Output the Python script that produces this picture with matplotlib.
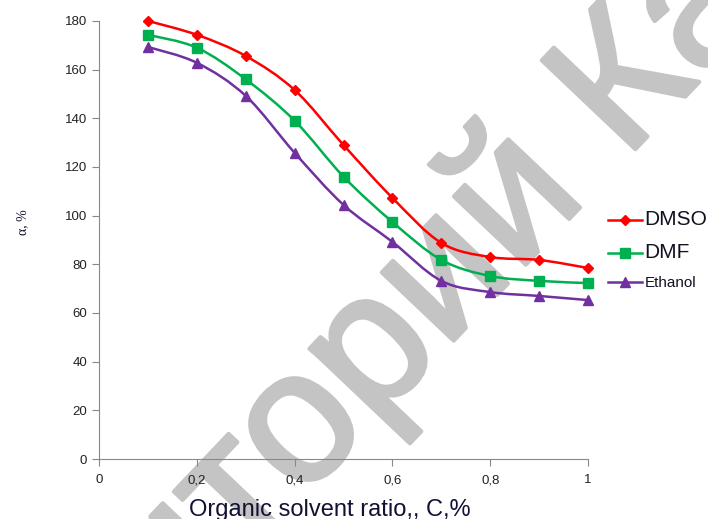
import matplotlib
matplotlib.use("Agg")
import matplotlib.pyplot as plt
import matplotlib.patheffects as pe
import numpy as np
from matplotlib.path import Path
from matplotlib.patches import PathPatch
from matplotlib.lines import Line2D

# data
ratio = [0.1, 0.2, 0.3, 0.4, 0.5, 0.6, 0.7, 0.8, 0.9, 1.0]
dmso = [180, 174.3, 165.6, 151.6, 129, 107.3, 88.8, 83, 81.8, 78.5]
dmf = [174.3, 169, 156, 139, 116, 97.4, 81.8, 75.2, 73.2, 72.3]
ethanol = [169.3, 162.8, 149.2, 125.8, 104.4, 89.2, 73.2, 68.6, 67, 65.3]

names = ["DMSO", "DMF", "Ethanol"]
colors = ["#ff0000", "#00b050", "#7030a0"]
markers = ["D", "s", "^"]
msizes = [5, 6.5, 7]
xticks = [0, 0.2, 0.4, 0.6, 0.8, 1]
xticklabels = ["0", "0,2", "0,4", "0,6", "0,8", "1"]
yticks = list(range(0, 181, 20))

plt.rcParams['font.family'] = ['Liberation Sans', 'DejaVu Sans']


def smooth_path(x, y):
    # excel-like smoothed line: catmull-rom segments as cubic bezier
    x = np.asarray(x, float)
    y = np.asarray(y, float)
    verts = [(x[0], y[0])]
    codes = [Path.MOVETO]
    n = len(x)
    for i in range(n - 1):
        i0 = max(i - 1, 0)
        i3 = min(i + 2, n - 1)
        c1 = (x[i] + (x[i + 1] - x[i0]) / 6, y[i] + (y[i + 1] - y[i0]) / 6)
        c2 = (x[i + 1] - (x[i3] - x[i]) / 6, y[i + 1] - (y[i3] - y[i]) / 6)
        verts += [c1, c2, (x[i + 1], y[i + 1])]
        codes += [Path.CURVE4] * 3
    return Path(verts, codes)


fig = plt.figure(figsize=(7.08, 5.19), dpi=100)
ax = fig.add_axes([0.14, 0.1156, 0.6905, 0.844])

handles = []
for ys, name, c, m, ms in zip([dmso, dmf, ethanol], names, colors, markers, msizes):
    patch = PathPatch(smooth_path(ratio, ys), facecolor="none", edgecolor=c, lw=1.8, zorder=3)
    ax.add_patch(patch)
    ax.plot(ratio, ys, linestyle="none", marker=m, ms=ms, color=c, zorder=4, clip_on=False)
    handles.append(Line2D([], [], color=c, lw=1.8, marker=m, ms=ms))

ax.set_xlim(0, 1)
ax.set_ylim(0, 180)
ax.set_xticks(xticks)
ax.set_xticklabels(xticklabels)
ax.set_yticks(yticks)
for s in ["top", "right"]:
    ax.spines[s].set_visible(False)
for s in ["left", "bottom"]:
    ax.spines[s].set_color("#888888")
ax.tick_params(colors="#888888", labelcolor="#222222", labelsize=9.5, length=5, direction="out")
ax.tick_params(axis="x", pad=6)

ax.set_xlabel("Organic solvent ratio,, C,%", fontsize=17, color="#111133")
ax.xaxis.set_label_coords(0.472, -0.117)
ax.xaxis.label.set_va("center")
ax.set_ylabel("α, %", fontsize=10, color="#111133", family=["Liberation Serif", "DejaVu Serif"])
ax.yaxis.set_label_coords(-0.157, 0.541)
ax.yaxis.label.set_va("center")

leg = ax.legend(handles, names, loc="center left", bbox_to_anchor=(1.03, 0.477), frameon=False,
                handlelength=2.4, handletextpad=0.2, labelspacing=1.0, borderaxespad=0.0)
for t, fs in zip(leg.get_texts(), [15, 15, 11]):
    t.set_fontsize(fs)
    t.set_color("#111122")

# watermark, split so the visible part sits where the reference has it
wm = dict(transform=fig.transFigure, fontsize=135, family="Liberation Sans", color="#c4c4c4",
          rotation=46.5, va="baseline", rotation_mode="anchor", clip_on=False, zorder=1,
          path_effects=[pe.withStroke(linewidth=3, foreground="#c4c4c4")])
ax.text(0.344, -0.083, "Репози", ha="right", **wm)
ax.text(0.344, -0.083, "торий КазНУ", ha="left", **wm)

fig.savefig("out.png", dpi=100)
